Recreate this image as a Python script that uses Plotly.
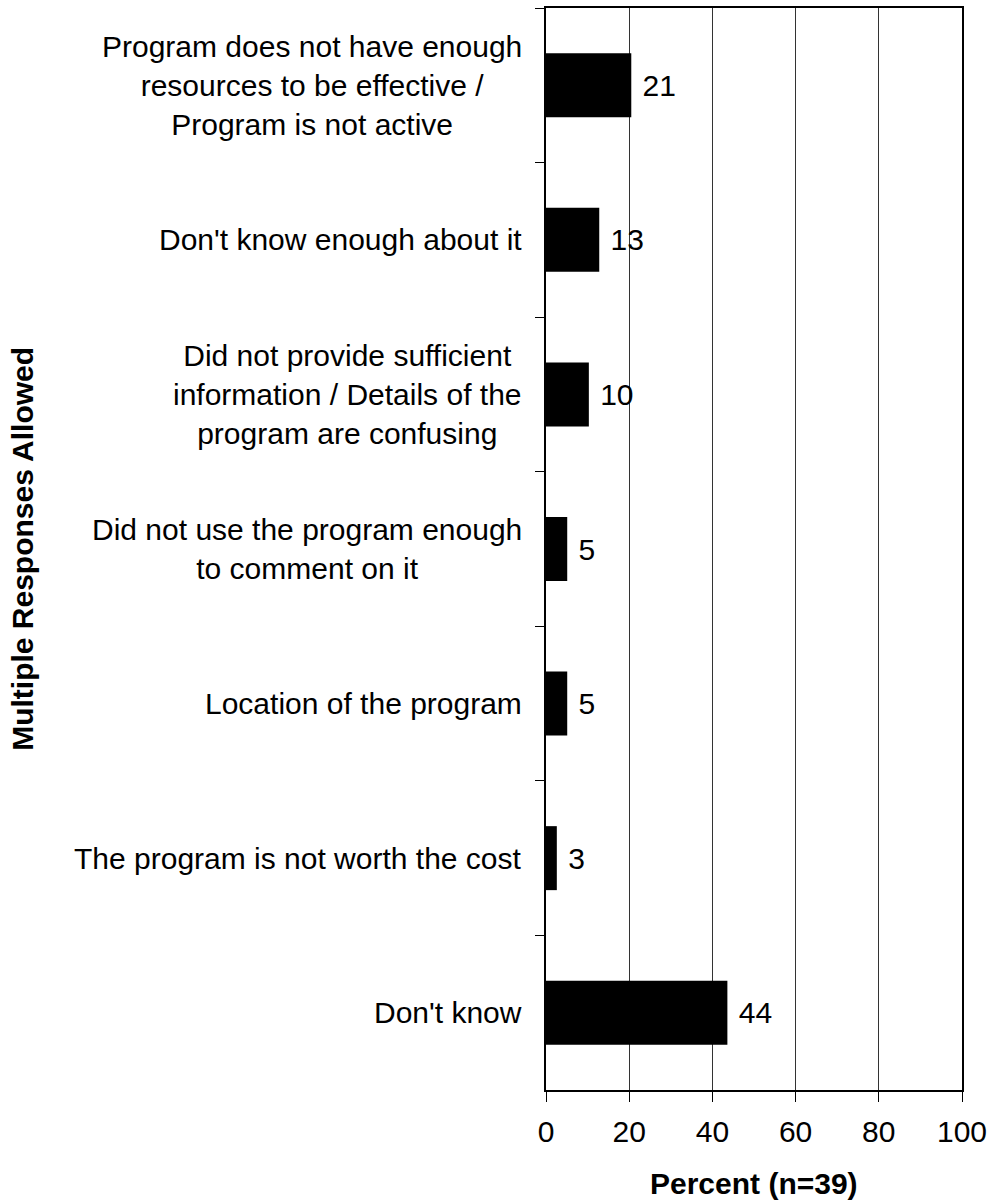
import plotly.graph_objects as go

# survey reasons, top to bottom (multiple responses allowed, n=39)
reasons = [
    "Program does not have enough<br>resources to be effective /<br>Program is not active",
    "Don't know enough about it",
    "Did not provide sufficient<br>information / Details of the<br>program are confusing",
    "Did not use the program enough<br>to comment on it",
    "Location of the program",
    "The program is not worth the cost",
    "Don't know",
]
percent = [20.5, 12.8, 10.3, 5.1, 5.1, 2.6, 43.6]
percent_labels = ["21", "13", "10", "5", "5", "3", "44"]
x_ticks = [0, 20, 40, 60, 80, 100]

FONT = "Liberation Sans, Arial, sans-serif"
FS = 30

fig = go.Figure()
fig.add_trace(go.Bar(
    x=percent, y=reasons, orientation="h",
    marker=dict(color="black", line=dict(width=0)),
    text=percent_labels, texttemplate=" %{text}", textposition="outside",
    textfont=dict(family=FONT, size=FS, color="black"),
    cliponaxis=False,
))

# category labels: lines centred, block right-aligned next to the axis
for r in reasons:
    fig.add_annotation(x=0, xref="paper", y=r, yref="y",
        text=r, showarrow=False, xanchor="right", yanchor="middle",
        align="center", xshift=-22,
        font=dict(family=FONT, size=FS, color="black"))

fig.add_annotation(x=-1.26, xref="paper", y=0.5, yref="paper",
    text="<b>Multiple Responses Allowed</b>", textangle=-90, showarrow=False,
    xanchor="center", yanchor="middle",
    font=dict(family=FONT, size=FS, color="black"))

fig.add_annotation(x=0.5, xref="paper", y=0, yref="paper",
    text="<b>Percent (n=39)</b>", showarrow=False, yanchor="middle", yshift=-93,
    font=dict(family=FONT, size=FS, color="black"))

fig.update_xaxes(range=[0, 100], tickvals=x_ticks, showgrid=True,
    gridcolor="#333333", gridwidth=1, zeroline=False, automargin=False,
    showline=True, linecolor="black", linewidth=2, mirror=True,
    ticks="outside", ticklen=10, tickcolor="black", ticklabelstandoff=4,
    tickfont=dict(family=FONT, size=FS, color="black"))

fig.update_yaxes(categoryorder="array", categoryarray=reasons, autorange="reversed",
    showticklabels=False, tickson="boundaries", ticks="outside", ticklen=9,
    tickcolor="black", showgrid=False, automargin=False,
    showline=True, linecolor="black", linewidth=2, mirror=True)

fig.update_layout(width=988, height=1201, bargap=0.586, showlegend=False,
    plot_bgcolor="white", paper_bgcolor="white",
    margin=dict(l=546, r=26, t=8, b=111),
    font=dict(family=FONT, size=FS, color="black"))

# drop the default body margin so the figure fills the window exactly
fig.write_html("out.html", config={"displayModeBar": False},
    post_script="document.body.style.margin='0';document.body.style.overflow='hidden';")
